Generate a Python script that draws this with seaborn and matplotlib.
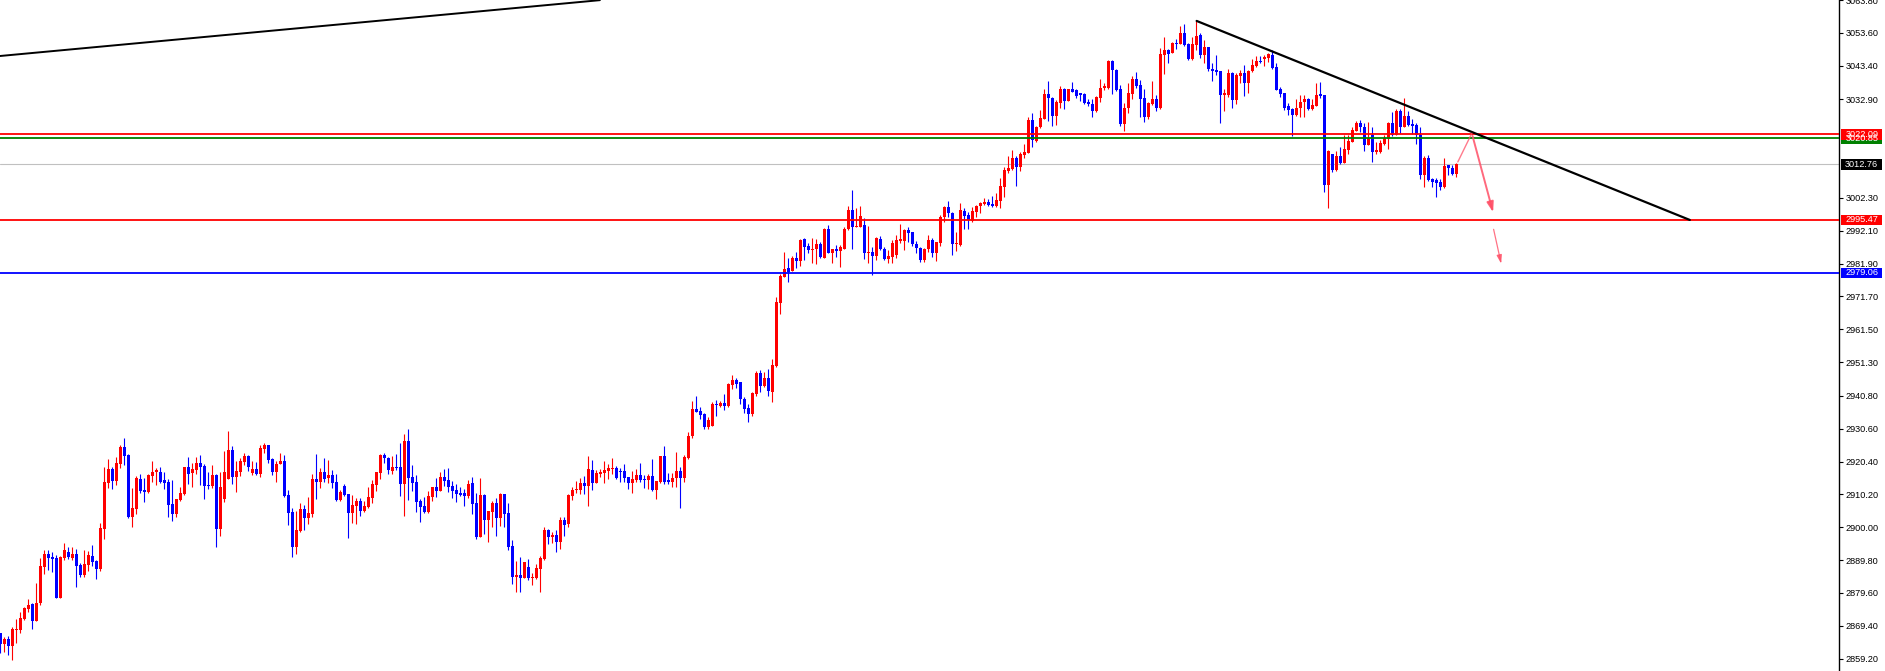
import numpy as np
import pandas as pd
import matplotlib
matplotlib.use("Agg")
import matplotlib.pyplot as plt
import seaborn as sns
from matplotlib import transforms
from matplotlib.patches import Rectangle

# OHLC, one value per candle (left to right)
opens = [
    2867.1, 2863.7, 2865.3, 2863.2, 2868.2, 2868.2, 2871.5, 2874.7, 2876.1, 2870.9,
    2876.4, 2887.8, 2891.7, 2890.8, 2890.6, 2878.1, 2890.6, 2892.3, 2890.5, 2891.7,
    2888.3, 2885.2, 2888.3, 2891.1, 2889.4, 2887.1, 2899.6, 2913.8, 2918.1, 2914.4,
    2919.8, 2924.9, 2922.4, 2903.3, 2905.8, 2914.9, 2911.6, 2910.9, 2916.0, 2917.3,
    2917.3, 2914.7, 2914.0, 2907.2, 2904.1, 2908.5, 2910.3, 2918.7, 2916.9, 2917.8,
    2920.0, 2919.1, 2913.1, 2912.8, 2916.2, 2899.6, 2908.8, 2914.9, 2924.0, 2915.7,
    2917.3, 2920.4, 2922.1, 2916.9, 2918.0, 2916.5, 2924.4, 2925.5, 2921.2, 2917.2,
    2919.7, 2920.6, 2910.0, 2904.7, 2894.0, 2898.8, 2905.7, 2903.0, 2904.1, 2914.9,
    2914.2, 2917.3, 2915.4, 2916.2, 2914.0, 2908.5, 2912.8, 2910.3, 2904.5, 2906.7,
    2908.2, 2905.2, 2906.3, 2909.2, 2913.2, 2916.9, 2922.5, 2921.5, 2917.6, 2918.8,
    2918.6, 2913.4, 2926.8, 2915.5, 2914.0, 2908.2, 2906.6, 2904.7, 2909.5, 2912.5,
    2911.4, 2915.6, 2914.7, 2912.8, 2911.6, 2910.7, 2910.7, 2909.7, 2913.8, 2907.6,
    2897.1, 2910.0, 2902.3, 2904.7, 2907.5, 2902.9, 2910.3, 2904.3, 2894.2, 2884.7,
    2885.2, 2884.2, 2887.7, 2884.3, 2884.3, 2887.0, 2890.1, 2899.1, 2896.9, 2897.6,
    2895.5, 2902.3, 2901.0, 2909.8, 2911.6, 2911.6, 2913.8, 2912.9, 2917.8, 2913.8,
    2916.5, 2916.9, 2917.6, 2918.0, 2918.3, 2917.6, 2917.5, 2915.5, 2913.8, 2914.7,
    2916.2, 2915.0, 2914.7, 2915.9, 2911.6, 2914.2, 2922.1, 2914.7, 2914.1, 2915.2,
    2917.5, 2915.4, 2921.6, 2928.2, 2936.6, 2936.1, 2935.2, 2931.1, 2931.5, 2938.3,
    2937.8, 2938.5, 2937.7, 2944.3, 2945.7, 2945.0, 2940.0, 2937.0, 2935.1, 2941.4,
    2948.0, 2944.0, 2946.3, 2942.1, 2950.2, 2969.8, 2977.8, 2980.4, 2979.6, 2983.7,
    2982.8, 2989.5, 2987.4, 2986.1, 2986.4, 2988.0, 2983.8, 2992.6, 2985.1, 2986.4,
    2985.8, 2986.6, 2992.8, 2998.7, 2993.4, 2993.4, 2993.9, 2985.1, 2985.5, 2984.4,
    2989.7, 2986.6, 2983.3, 2984.1, 2984.6, 2988.9, 2989.0, 2992.3, 2991.7, 2987.9,
    2986.9, 2983.0, 2986.4, 2989.2, 2985.3, 2988.4, 2996.3, 2999.4, 2997.7, 2987.9,
    2987.7, 2998.2, 2997.0, 2995.2, 2997.9, 2999.8, 3000.5, 3001.2, 3000.4, 2999.8,
    3001.3, 3005.8, 3010.6, 3011.3, 3014.8, 3012.0, 3015.6, 3016.3, 3026.5, 3020.1,
    3024.2, 3026.8, 3034.6, 3033.5, 3027.8, 3031.9, 3036.1, 3032.5, 3036.0, 3035.8,
    3034.8, 3034.6, 3032.2, 3031.5, 3029.4, 3033.5, 3036.6, 3036.6, 3044.8, 3042.2,
    3036.0, 3025.3, 3030.3, 3034.6, 3039.2, 3037.4, 3033.5, 3027.5, 3031.5, 3033.2,
    3030.1, 3046.7, 3048.2, 3047.4, 3050.5, 3050.1, 3053.5, 3050.0, 3045.6, 3049.8,
    3052.9, 3046.7, 3049.1, 3042.5, 3042.2, 3041.7, 3034.3, 3034.3, 3041.2, 3032.7,
    3040.2, 3041.2, 3038.1, 3041.8, 3043.4, 3044.8, 3045.4, 3045.8, 3046.7, 3043.0,
    3036.0, 3034.8, 3030.8, 3029.9, 3028.1, 3030.1, 3032.2, 3033.0, 3029.8, 3030.9,
    3034.6, 3034.3, 3006.3, 3015.9, 3011.0, 3015.3, 3013.3, 3017.2, 3019.8, 3023.2,
    3025.5, 3024.4, 3018.7, 3021.8, 3016.7, 3016.7, 3019.2, 3020.5, 3025.5, 3021.8,
    3029.3, 3024.4, 3027.8, 3025.4, 3024.9, 3021.8, 3009.4, 3014.8, 3008.1, 3007.9,
    3007.3, 3005.8, 3012.5, 3011.5, 3009.9,
]
closes = [
    2863.7, 2865.3, 2863.2, 2868.4, 2868.4, 2871.7, 2874.8, 2875.8, 2870.9, 2876.5,
    2888.0, 2891.7, 2890.5, 2890.1, 2878.1, 2890.7, 2892.9, 2890.7, 2891.7, 2888.1,
    2885.2, 2888.6, 2891.4, 2889.3, 2887.1, 2899.7, 2914.0, 2918.1, 2914.4, 2920.0,
    2924.9, 2922.2, 2903.1, 2906.0, 2915.3, 2911.4, 2911.0, 2916.1, 2917.3, 2917.8,
    2914.0, 2913.7, 2906.9, 2904.1, 2908.7, 2910.7, 2918.7, 2916.5, 2918.1, 2920.0,
    2918.8, 2912.9, 2912.8, 2916.2, 2899.6, 2912.6, 2917.1, 2924.0, 2915.7, 2917.5,
    2920.6, 2922.0, 2918.8, 2918.0, 2916.5, 2924.6, 2925.5, 2920.9, 2917.2, 2919.8,
    2920.6, 2909.7, 2904.5, 2894.0, 2899.1, 2905.7, 2903.0, 2904.3, 2914.9, 2914.2,
    2917.3, 2915.0, 2916.2, 2913.8, 2908.5, 2910.9, 2909.9, 2904.5, 2906.9, 2908.2,
    2905.2, 2906.6, 2909.4, 2913.4, 2917.2, 2922.5, 2921.4, 2917.8, 2918.6, 2918.3,
    2913.4, 2926.8, 2915.4, 2913.8, 2907.9, 2906.4, 2904.7, 2909.7, 2912.5, 2911.4,
    2915.6, 2914.4, 2912.6, 2911.4, 2910.3, 2910.0, 2909.7, 2913.4, 2907.2, 2896.9,
    2910.0, 2902.3, 2905.0, 2907.5, 2902.9, 2910.3, 2904.1, 2893.8, 2884.7, 2885.2,
    2884.2, 2889.1, 2884.2, 2884.7, 2887.2, 2890.6, 2899.1, 2896.9, 2897.6, 2895.5,
    2902.3, 2900.8, 2910.0, 2911.6, 2912.0, 2913.8, 2912.9, 2918.1, 2913.8, 2916.9,
    2917.3, 2917.8, 2918.5, 2918.3, 2915.4, 2917.3, 2915.4, 2913.8, 2915.0, 2916.2,
    2914.7, 2914.7, 2915.9, 2911.6, 2914.4, 2922.1, 2914.2, 2914.1, 2915.2, 2917.5,
    2915.4, 2921.9, 2928.4, 2936.6, 2935.9, 2934.9, 2931.0, 2933.3, 2938.3, 2938.0,
    2938.5, 2937.7, 2944.5, 2945.7, 2944.5, 2939.8, 2936.7, 2935.1, 2941.6, 2947.8,
    2944.0, 2946.3, 2942.4, 2950.4, 2969.9, 2978.1, 2980.1, 2979.4, 2983.5, 2982.7,
    2989.2, 2987.2, 2986.1, 2986.6, 2988.0, 2984.0, 2992.6, 2985.3, 2986.4, 2985.8,
    2987.0, 2992.8, 2998.7, 2993.4, 2993.7, 2996.8, 2985.3, 2985.5, 2984.4, 2990.0,
    2986.4, 2983.3, 2984.3, 2988.4, 2989.2, 2989.5, 2992.3, 2991.5, 2987.9, 2986.9,
    2983.0, 2986.6, 2989.2, 2985.3, 2988.5, 2996.5, 2999.4, 2997.7, 2987.9, 2988.4,
    2998.5, 2996.7, 2995.4, 2998.2, 2999.8, 3000.8, 3001.0, 3000.0, 2999.8, 3001.6,
    3006.1, 3011.0, 3011.7, 3014.8, 3012.0, 3015.9, 3016.7, 3026.5, 3020.3, 3024.4,
    3027.0, 3034.6, 3033.4, 3027.8, 3032.2, 3036.0, 3032.5, 3036.0, 3035.3, 3033.9,
    3034.3, 3031.9, 3031.5, 3029.4, 3033.7, 3036.6, 3037.1, 3044.8, 3042.2, 3035.8,
    3025.3, 3030.4, 3034.8, 3039.2, 3037.1, 3033.2, 3027.5, 3031.7, 3033.2, 3030.1,
    3047.0, 3048.2, 3047.0, 3050.5, 3050.1, 3053.5, 3049.8, 3045.4, 3050.0, 3052.6,
    3046.7, 3049.1, 3042.3, 3041.7, 3041.5, 3034.3, 3034.8, 3041.0, 3032.7, 3040.5,
    3041.2, 3038.1, 3041.8, 3043.6, 3044.8, 3044.5, 3046.2, 3047.0, 3042.7, 3035.8,
    3034.6, 3030.4, 3029.6, 3028.1, 3030.3, 3032.2, 3033.0, 3029.8, 3031.1, 3034.4,
    3033.9, 3006.3, 3016.9, 3011.0, 3015.3, 3013.3, 3017.4, 3020.0, 3023.4, 3025.5,
    3024.4, 3018.7, 3021.0, 3016.7, 3017.2, 3019.5, 3020.8, 3025.7, 3021.8, 3029.3,
    3024.4, 3027.8, 3025.1, 3024.6, 3021.8, 3009.4, 3014.8, 3007.9, 3007.3, 3007.0,
    3005.8, 3012.2, 3011.5, 3009.6, 3012.8,
]
highs = [
    2867.1, 2866.0, 2866.2, 2869.1, 2871.4, 2873.7, 2875.1, 2877.7, 2876.4, 2882.7,
    2890.5, 2892.9, 2892.9, 2892.4, 2891.4, 2891.2, 2895.0, 2893.8, 2894.0, 2893.1,
    2889.0, 2892.9, 2892.7, 2894.5, 2889.8, 2901.2, 2918.8, 2921.2, 2918.8, 2921.7,
    2925.5, 2927.7, 2922.9, 2912.1, 2915.9, 2916.5, 2915.3, 2916.5, 2920.6, 2918.4,
    2918.6, 2917.3, 2914.9, 2914.7, 2908.9, 2912.6, 2918.7, 2921.9, 2920.1, 2921.9,
    2922.5, 2919.6, 2917.2, 2919.3, 2916.7, 2917.3, 2923.7, 2929.9, 2925.2, 2920.6,
    2921.6, 2923.2, 2922.5, 2920.6, 2920.3, 2925.5, 2926.1, 2925.5, 2921.6, 2920.6,
    2923.0, 2922.4, 2911.6, 2905.9, 2905.1, 2907.4, 2906.9, 2909.3, 2916.5, 2922.7,
    2918.5, 2921.6, 2920.9, 2917.8, 2916.5, 2911.6, 2913.4, 2910.3, 2910.0, 2909.0,
    2909.0, 2908.2, 2912.6, 2914.7, 2917.3, 2922.9, 2923.2, 2921.9, 2922.1, 2922.7,
    2926.3, 2929.0, 2930.5, 2919.3, 2916.2, 2908.8, 2909.3, 2911.4, 2912.5, 2915.2,
    2917.3, 2918.0, 2918.4, 2914.4, 2913.4, 2912.6, 2911.9, 2914.7, 2915.7, 2910.5,
    2915.2, 2910.3, 2905.0, 2908.2, 2909.0, 2910.7, 2910.3, 2907.4, 2896.0, 2889.5,
    2890.9, 2889.3, 2890.1, 2885.7, 2888.6, 2891.1, 2900.2, 2899.6, 2898.6, 2899.1,
    2903.1, 2903.3, 2910.3, 2912.6, 2914.4, 2915.2, 2915.9, 2922.1, 2920.9, 2917.8,
    2918.1, 2920.6, 2919.6, 2921.6, 2919.0, 2918.3, 2919.6, 2915.5, 2917.5, 2918.1,
    2920.1, 2916.2, 2916.5, 2921.2, 2914.4, 2922.1, 2925.3, 2916.8, 2916.8, 2923.5,
    2918.8, 2922.5, 2929.7, 2939.3, 2940.8, 2937.3, 2935.6, 2934.2, 2939.0, 2939.5,
    2939.3, 2941.4, 2944.9, 2947.3, 2946.5, 2945.2, 2940.6, 2938.3, 2941.9, 2948.6,
    2948.9, 2948.3, 2949.1, 2952.3, 2971.6, 2978.6, 2985.6, 2983.8, 2984.3, 2985.6,
    2989.5, 2990.0, 2988.2, 2990.0, 2989.7, 2988.7, 2993.1, 2993.9, 2986.6, 2987.7,
    2987.7, 2993.4, 2999.8, 3004.9, 2999.3, 2999.8, 2996.2, 2993.7, 2987.2, 2990.3,
    2990.5, 2987.2, 2986.1, 2989.2, 2990.8, 2994.2, 2992.6, 2993.4, 2991.7, 2989.0,
    2987.2, 2986.9, 2990.8, 2990.0, 2988.7, 2997.0, 2999.8, 3001.3, 2998.0, 2991.6,
    3000.8, 2999.3, 2997.9, 2999.6, 3000.1, 3001.1, 3002.2, 3002.0, 3002.9, 3003.7,
    3008.6, 3012.0, 3015.3, 3017.2, 3015.3, 3016.7, 3019.0, 3027.5, 3028.6, 3024.6,
    3029.6, 3036.0, 3038.6, 3033.7, 3032.7, 3037.0, 3036.5, 3036.3, 3038.3, 3036.3,
    3035.0, 3035.0, 3032.9, 3033.0, 3033.9, 3039.2, 3038.1, 3045.3, 3045.1, 3042.5,
    3037.4, 3031.9, 3038.1, 3040.2, 3041.5, 3038.9, 3036.3, 3032.2, 3038.6, 3034.3,
    3048.9, 3052.4, 3048.7, 3050.8, 3051.6, 3055.7, 3056.3, 3050.3, 3052.2, 3057.3,
    3053.6, 3051.5, 3049.3, 3044.1, 3046.7, 3041.8, 3036.0, 3042.5, 3041.5, 3041.2,
    3042.0, 3043.6, 3042.0, 3045.6, 3046.4, 3046.4, 3046.7, 3047.4, 3048.2, 3044.1,
    3036.8, 3034.8, 3031.7, 3030.4, 3033.2, 3034.3, 3034.3, 3033.4, 3033.2, 3038.0,
    3038.4, 3034.3, 3017.2, 3016.1, 3017.0, 3018.2, 3021.8, 3021.8, 3024.4, 3026.3,
    3026.5, 3025.7, 3026.0, 3024.4, 3019.8, 3020.3, 3021.8, 3026.0, 3029.1, 3029.8,
    3029.9, 3033.4, 3029.4, 3026.7, 3025.7, 3024.4, 3015.3, 3015.8, 3008.4, 3008.4,
    3008.1, 3014.6, 3012.5, 3012.5, 3013.2,
]
lows = [
    2860.8, 2861.4, 2860.3, 2858.8, 2864.0, 2867.1, 2871.1, 2873.7, 2868.4, 2870.9,
    2875.9, 2885.5, 2886.7, 2886.2, 2878.1, 2878.1, 2889.8, 2890.2, 2889.8, 2881.5,
    2884.7, 2884.7, 2886.5, 2888.1, 2883.9, 2886.5, 2896.4, 2912.3, 2912.0, 2913.1,
    2918.3, 2919.3, 2902.8, 2900.2, 2904.0, 2910.7, 2907.9, 2910.7, 2914.2, 2913.1,
    2913.6, 2911.9, 2903.3, 2902.0, 2903.3, 2908.2, 2909.9, 2913.4, 2912.6, 2916.7,
    2913.1, 2908.8, 2912.0, 2912.2, 2894.0, 2897.4, 2907.9, 2914.9, 2913.4, 2911.0,
    2916.0, 2919.3, 2917.5, 2916.2, 2916.2, 2915.7, 2923.0, 2920.1, 2916.2, 2914.2,
    2919.7, 2909.5, 2900.7, 2890.9, 2891.7, 2898.4, 2899.1, 2900.9, 2903.3, 2908.8,
    2912.3, 2914.0, 2913.6, 2912.1, 2908.2, 2908.2, 2909.7, 2896.8, 2901.4, 2901.1,
    2903.6, 2904.6, 2906.1, 2907.6, 2911.4, 2915.0, 2920.1, 2916.7, 2916.5, 2917.8,
    2909.7, 2903.5, 2908.5, 2911.3, 2904.8, 2901.7, 2904.3, 2904.5, 2908.2, 2909.5,
    2911.4, 2912.9, 2911.0, 2909.2, 2907.9, 2909.7, 2906.7, 2909.2, 2904.1, 2896.4,
    2897.1, 2897.9, 2895.4, 2900.2, 2897.3, 2900.4, 2900.2, 2892.9, 2882.4, 2880.0,
    2880.0, 2884.2, 2883.6, 2882.1, 2884.0, 2880.0, 2889.8, 2894.8, 2895.2, 2892.4,
    2893.2, 2897.4, 2900.2, 2908.5, 2910.5, 2910.3, 2910.3, 2906.6, 2911.6, 2913.8,
    2915.7, 2913.8, 2915.1, 2916.7, 2914.9, 2914.2, 2914.0, 2911.9, 2910.7, 2914.2,
    2914.2, 2912.2, 2911.8, 2911.4, 2908.8, 2913.6, 2913.4, 2913.4, 2912.6, 2912.4,
    2905.9, 2914.2, 2921.3, 2927.8, 2935.7, 2933.6, 2930.5, 2930.6, 2931.5, 2934.7,
    2937.5, 2936.4, 2937.5, 2942.9, 2943.4, 2938.2, 2935.4, 2932.8, 2934.6, 2940.9,
    2942.1, 2943.7, 2940.9, 2939.0, 2949.7, 2966.2, 2977.6, 2976.3, 2979.6, 2980.6,
    2981.1, 2983.0, 2985.1, 2982.0, 2981.7, 2983.8, 2983.5, 2985.3, 2982.0, 2984.0,
    2980.9, 2986.6, 2992.5, 2986.6, 2993.4, 2993.4, 2983.2, 2982.0, 2978.4, 2983.0,
    2986.1, 2983.0, 2982.2, 2982.0, 2983.5, 2988.4, 2986.1, 2988.7, 2987.4, 2985.3,
    2982.3, 2982.3, 2985.4, 2984.1, 2982.7, 2987.4, 2994.7, 2996.5, 2984.6, 2985.8,
    2987.4, 2992.7, 2992.7, 2994.9, 2996.5, 2997.7, 3000.1, 2999.8, 2999.4, 2999.4,
    2999.1, 3002.7, 3010.1, 3011.0, 3006.1, 3010.8, 3014.6, 3016.3, 3018.2, 3019.8,
    3023.9, 3026.7, 3026.3, 3024.6, 3025.1, 3030.3, 3029.8, 3032.5, 3035.3, 3033.4,
    3032.4, 3031.5, 3030.8, 3027.5, 3029.1, 3032.2, 3035.8, 3036.3, 3034.6, 3035.6,
    3024.6, 3023.2, 3028.6, 3033.2, 3036.6, 3027.3, 3026.0, 3026.8, 3031.2, 3029.3,
    3029.8, 3040.8, 3044.3, 3047.2, 3048.5, 3050.0, 3049.6, 3045.1, 3045.1, 3048.2,
    3045.9, 3044.3, 3041.7, 3038.7, 3040.5, 3025.6, 3029.4, 3033.7, 3030.1, 3031.4,
    3037.9, 3033.9, 3035.0, 3041.5, 3043.1, 3044.1, 3043.4, 3044.6, 3042.3, 3035.8,
    3033.7, 3029.6, 3028.1, 3021.5, 3027.7, 3027.5, 3027.3, 3029.6, 3029.6, 3030.8,
    3033.5, 3004.2, 2999.3, 3010.5, 3010.8, 3012.8, 3013.3, 3015.9, 3019.8, 3023.2,
    3022.9, 3017.0, 3018.7, 3013.6, 3016.1, 3016.3, 3018.7, 3017.4, 3021.5, 3021.8,
    3022.6, 3024.2, 3024.6, 3022.3, 3019.2, 3008.1, 3005.8, 3007.6, 3005.8, 3002.5,
    3004.8, 3005.5, 3009.4, 3009.4, 3008.9,
]

# horizontal levels and their labels on the price scale
level_prices = [3022.09, 3020.85, 3012.76, 2995.47, 2979.06]
level_labels = ["3022.09", "3020.85", "3012.76", "2995.47", "2979.06"]
level_colors = ["#ff0000", "#008000", "#000000", "#ff0000", "#0000ff"]

tick_vals = [3063.80, 3053.60, 3043.40, 3032.90, 3002.30, 2992.10, 2981.90,
             2971.70, 2961.50, 2951.30, 2940.80, 2930.60, 2920.40, 2910.20,
             2900.00, 2889.80, 2879.60, 2869.40, 2859.20]
tick_text = ["%.2f" % v for v in tick_vals]

# drawn objects: trend lines and projected arrows (bar index, price)
trend_x, trend_y = [299.1, 422.4], [3057.3, 2995.47]
top_x, top_y = [-0.1, 149.9], [3046.4, 3063.75]
path_x = [364.4, 367.9, 373.4]
path_y = [3013.5, 3022.4, 2997.0]
arrow2_x, arrow2_y = [373.2, 375.4], [2993.4, 2981.0]

sns.set_style("white")
plt.rcParams['font.family'] = ['Liberation Sans', 'DejaVu Sans']

df = pd.DataFrame({"open": opens, "close": closes, "high": highs, "low": lows})
df["idx"] = np.arange(len(df))
df["color"] = np.where(df["close"] >= df["open"], "#ff0000", "#0000ff")
df["body_lo"] = df[["open", "close"]].min(axis=1)
df["body_h"] = (df["close"] - df["open"]).abs().clip(lower=0.32)

fig = plt.figure(figsize=(18.85, 6.71), dpi=100)
ax = fig.add_axes([0, 0, 1839 / 1885, 1])

# wicks and bodies
ax.vlines(df["idx"], df["low"], df["high"], colors=df["color"], linewidth=0.8, zorder=2)
ax.bar(df["idx"], df["body_h"], bottom=df["body_lo"], width=0.72,
       color=df["color"], linewidth=0, zorder=3)

# level lines
for p, c in zip(level_prices, level_colors):
    if c == "#000000":
        ax.axhline(p, color="#c0c0c0", lw=0.8, zorder=1)
    else:
        ax.axhline(p, color=c, lw=1.3, zorder=4)

# trend lines
ax.plot(trend_x, trend_y, color="black", lw=1.6, zorder=5)
ax.plot(top_x, top_y, color="black", lw=1.4, zorder=5)

# projected path
pink = "#ff4f66"
ax.plot(path_x[:2], path_y[:2], color=pink, lw=1.0, alpha=0.75, zorder=6)
ax.annotate("", xy=(path_x[2], path_y[2]), xytext=(path_x[1], path_y[1]),
            arrowprops=dict(arrowstyle="-|>,head_length=0.6,head_width=0.2",
                            color=pink, lw=1.4, alpha=0.85), zorder=6)
ax.annotate("", xy=(arrow2_x[1], arrow2_y[1]), xytext=(arrow2_x[0], arrow2_y[0]),
            arrowprops=dict(arrowstyle="-|>,head_length=0.5,head_width=0.15",
                            color=pink, lw=0.9, alpha=0.8), zorder=6)

ax.set_xlim(-0.075, 459.7)
ax.set_ylim(2855.35, 3063.75)
ax.set_xticks([])
ax.yaxis.tick_right()
ax.set_yticks(tick_vals)
ax.set_yticklabels(tick_text)
ax.tick_params(axis="y", length=3, width=0.8, pad=2, labelsize=6.6,
               colors="black", direction="out")
for s in ["top", "left", "bottom"]:
    ax.spines[s].set_visible(False)
ax.spines["right"].set_color("black")
ax.spines["right"].set_linewidth(1.0)

# coloured price boxes on the scale
trans = transforms.blended_transform_factory(ax.transAxes, ax.transData)
box_w = 41 / 1839
box_h = 10.5 / 3.22
for p, t, c in sorted(zip(level_prices, level_labels, level_colors),
                      key=lambda r: r[1] != "3020.85", reverse=False):
    ax.add_patch(Rectangle((1.0012, p - box_h / 2), box_w, box_h, transform=trans,
                           facecolor=c, edgecolor="none", clip_on=False, zorder=10))
    ax.text(1.0012 + box_w / 2, p, t, transform=trans, ha="center", va="center",
            fontsize=6.6, color="white", clip_on=False, zorder=11)

fig.savefig("out.png", dpi=100)
